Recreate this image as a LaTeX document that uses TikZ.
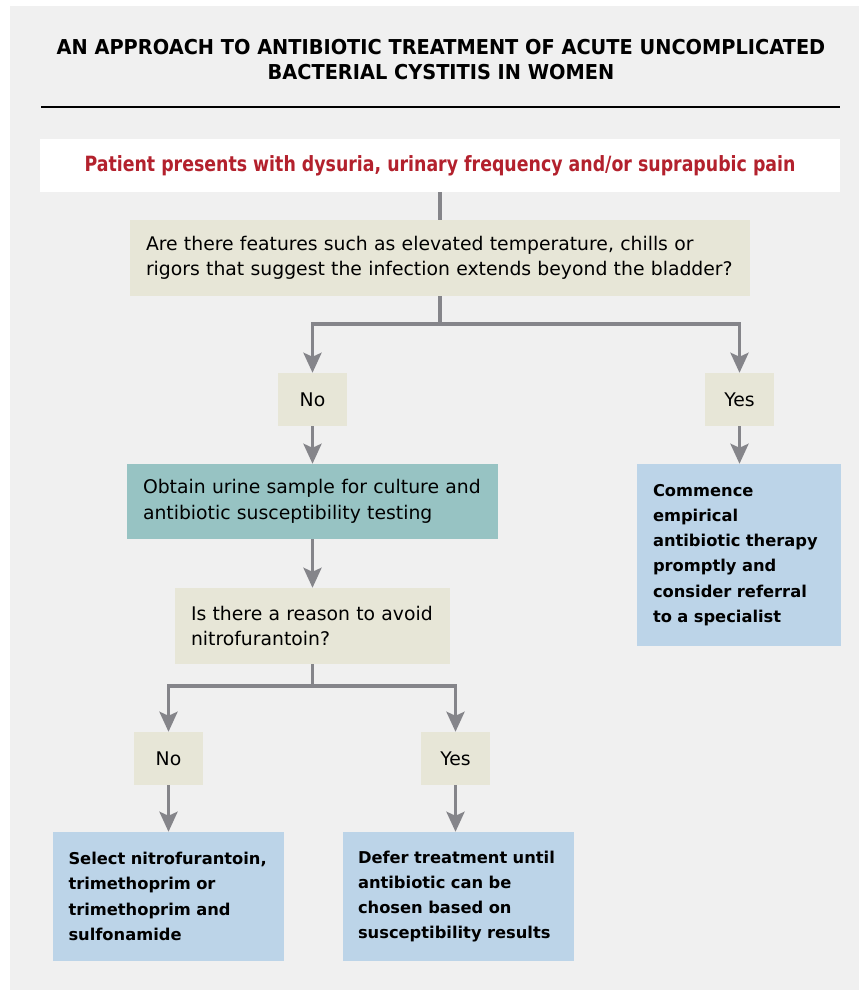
\documentclass[tikz,border=0pt]{standalone}
\usepackage{fontspec}
\setmainfont{DejaVu Sans}
\newfontfamily\titlefont[FakeStretch=0.944]{DejaVu Sans}
\newfontfamily\redfont[FakeStretch=0.827]{DejaVu Sans}
\usetikzlibrary{arrows.meta}
\hyphenpenalty=10000
\exhyphenpenalty=10000
\definecolor{panelgrey}{HTML}{F0F0F0}
\definecolor{linkgrey}{HTML}{85858A}
\definecolor{startred}{HTML}{B3212D}
\definecolor{askbeige}{HTML}{E7E6D7}
\definecolor{testteal}{HTML}{97C3C3}
\definecolor{actblue}{HTML}{BCD4E8}
\begin{document}
\begin{tikzpicture}[x=1pt,y=-1pt,
	body/.style={font=\fontsize{18.8}{25.5}\selectfont, text=black, inner sep=0pt},
	ask/.style={body, fill=askbeige, align=left},
	answer/.style={body, fill=askbeige, minimum width=69pt, minimum height=53pt},
	action/.style={body, font=\bfseries\fontsize{16.3}{25.2}\selectfont, fill=actblue, align=left},
	flow/.style={draw=linkgrey, line width=3.6pt},
	link/.style={flow, -{Stealth[length=20pt, width=18pt, inset=4pt]}}]
	\useasboundingbox (0,0) rectangle (859,990);
	\fill[panelgrey] (10,6) rectangle (859,990);
	% title and rule
	\node (title) at (441,60) [align=center, inner sep=0pt, font=\titlefont\bfseries\fontsize{20.5}{25}\selectfont] {AN APPROACH TO ANTIBIOTIC TREATMENT OF ACUTE UNCOMPLICATED\\BACTERIAL CYSTITIS IN WOMEN};
	\draw[line width=1.2pt] (41,107) -- (840,107);
	% boxes
	\node (start) at (440,165.5) [minimum width=800pt, minimum height=53pt, fill=white, text=startred, font=\redfont\bfseries\fontsize{21}{25}\selectfont] {Patient presents with dysuria, urinary frequency and/or suprapubic pain};
	\node (beyond) at (440,258) [ask, minimum width=620pt, minimum height=76pt, text width=588pt] {Are there features such as elevated temperature, chills or\\rigors that suggest the infection extends beyond the bladder?};
	\node (no1) at (312.5,399.5) [answer] {No};
	\node (yes1) at (739.5,399.5) [answer] {Yes};
	\node (culture) at (312.5,501.5) [ask, fill=testteal, minimum width=371pt, minimum height=75pt, text width=339pt] {Obtain urine sample for culture and\\antibiotic susceptibility testing};
	\node (empiric) at (739,555) [action, minimum width=204pt, minimum height=182pt, text width=172pt] {Commence\\empirical\\antibiotic therapy\\promptly and\\consider referral\\to a specialist};
	\node (avoid) at (312.5,626) [ask, minimum width=275pt, minimum height=76pt, text width=243pt] {Is there a reason to avoid\\nitrofurantoin?};
	\node (no2) at (168.5,758.5) [answer] {No};
	\node (yes2) at (455.5,758.5) [answer] {Yes};
	\node (select) at (168.5,896.5) [action, minimum width=231pt, minimum height=129pt, text width=200pt] {Select nitrofurantoin,\\trimethoprim or\\trimethoprim and\\sulfonamide};
	\node (defer) at (458.5,896.5) [action, minimum width=231pt, minimum height=129pt, text width=201pt] {Defer treatment until\\antibiotic can be\\chosen based on\\susceptibility results};
	% connectors
	\coordinate (split1) at (440,324);
	\coordinate (split2) at (312.5,686);
	\draw[flow] (start) -- (beyond);
	\draw[flow] (beyond) -- (split1);
	\draw[link] (split1) -| (no1);
	\draw[link] (split1) -| (yes1);
	\draw[link] (no1) -- (culture);
	\draw[link] (yes1) -- (empiric.north -| yes1);
	\draw[link] (culture) -- (avoid);
	\draw[flow] (avoid) -- (split2);
	\draw[link] (split2) -| (no2);
	\draw[link] (split2) -| (yes2);
	\draw[link] (no2) -- (select);
	\draw[link] (yes2) -- (defer.north -| yes2);
\end{tikzpicture}
\end{document}
